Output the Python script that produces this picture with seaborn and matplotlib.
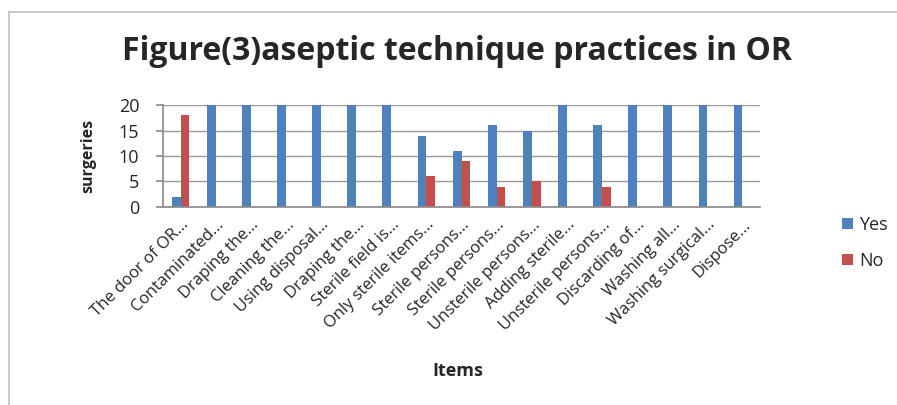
import numpy as np
import pandas as pd
import matplotlib
matplotlib.use("Agg")
import matplotlib.pyplot as plt
from matplotlib.patches import Rectangle, Patch
import seaborn as sns

items = ["The door of OR...", "Contaminated...", "Draping the...", "Cleaning the...",
         "Using disposal...", "Draping the...", "Sterile field is...", "Only sterile items...",
         "Sterile persons...", "Sterile persons...", "Unsterile persons...", "Adding sterile...",
         "Unsterile persons...", "Discarding of...", "Washing all...", "Washing surgical...",
         "Dispose..."]
yes_values = [2, 20, 20, 20, 20, 20, 20, 14, 11, 16, 15, 20, 16, 20, 20, 20, 20]
no_values = [18, 0, 0, 0, 0, 0, 0, 6, 9, 4, 5, 0, 4, 0, 0, 0, 0]
series = ["Yes", "No"]
colors = {"Yes": "#4F81BD", "No": "#C0504D"}

# long format with a positional key so duplicate labels stay separate
rows = []
for i, name in enumerate(items):
    rows.append({"pos": i, "answer": "Yes", "value": yes_values[i]})
    rows.append({"pos": i, "answer": "No", "value": no_values[i]})
df = pd.DataFrame(rows)

sns.set_theme(style="white")
plt.rcParams["font.family"] = ["Open Sans", "DejaVu Sans"]

fig = plt.figure(figsize=(8.97, 4.05), dpi=100)
fig.patches.append(Rectangle((9 / 897, -0.1), 1.2, 1 - 12 / 405 + 0.1,
                             transform=fig.transFigure, fill=False,
                             edgecolor="#BFBFBF", linewidth=1.2))

ax = fig.add_axes([163 / 897, 1 - 207 / 405, 597 / 897, 102 / 405])
sns.barplot(data=df, x="pos", y="value", hue="answer", hue_order=series,
            palette=colors, width=0.5, ax=ax, legend=False,
            edgecolor="none", saturation=1)

ax.set_ylim(0, 20)
ax.set_yticks([0, 5, 10, 15, 20])
ax.yaxis.grid(True, color="#9A9A9A", linewidth=1.0)
ax.set_axisbelow(True)
for side in ["top", "right"]:
    ax.spines[side].set_visible(False)
ax.spines["left"].set_color("#8C8C8C")
ax.spines["bottom"].set_color("#8C8C8C")
ax.tick_params(axis="y", left=True, length=5, color="#8C8C8C", labelsize=13, pad=12)
ax.tick_params(axis="x", bottom=False, labelsize=12, pad=1)

ax.set_xticks(range(len(items)))
ax.set_xticklabels(items, rotation=45, ha="right", rotation_mode="anchor")
ax.set_xlabel("")
ax.set_ylabel("surgeries", fontsize=11.5, fontweight="bold", labelpad=16)

fig.text(0.509, 1 - 51 / 405, "Figure(3)aseptic technique practices in OR",
         ha="center", va="center", fontsize=23, fontweight="bold")
fig.text(458 / 897, 1 - 371 / 405, "Items", ha="center", va="center",
         fontsize=13, fontweight="bold")

handles = [Patch(facecolor=colors[s], edgecolor="none") for s in series]
fig.legend(handles, series, loc="center left", bbox_to_anchor=(826 / 897, 1 - 243 / 405),
           frameon=False, fontsize=13, handlelength=0.6, handleheight=0.6,
           labelspacing=1.0, handletextpad=0.35)

fig.savefig("out.png", dpi=100)
